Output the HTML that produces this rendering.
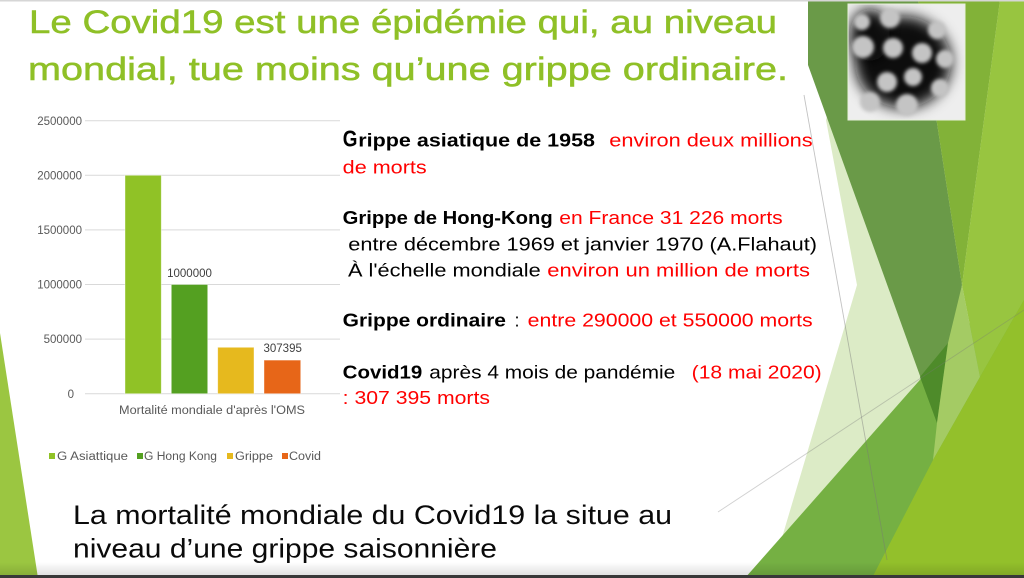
<!DOCTYPE html>
<html>
<head>
<meta charset="utf-8">
<style>
html,body{margin:0;padding:0;background:#fff;}
svg{display:block;}
text{font-family:"Liberation Sans","DejaVu Sans",sans-serif;}
</style>
</head>
<body>
<svg width="1024" height="578" viewBox="0 0 1024 578" xmlns="http://www.w3.org/2000/svg">
  <defs>
    <filter id="blur6" x="-50%" y="-50%" width="200%" height="200%"><feGaussianBlur stdDeviation="7"/></filter>
    <filter id="blur2" x="-50%" y="-50%" width="200%" height="200%"><feGaussianBlur stdDeviation="1.8"/></filter>
    <clipPath id="imgclip"><rect x="848" y="4" width="117" height="116"/></clipPath>
    <linearGradient id="shadow" x1="0" y1="0" x2="0" y2="1">
      <stop offset="0" stop-color="#000" stop-opacity="0"/>
      <stop offset="1" stop-color="#000" stop-opacity="0.12"/>
    </linearGradient>
  </defs>

  <rect width="1024" height="578" fill="#ffffff"/>

  <!-- left triangle -->
  <polygon points="0,333 38,578 0,578" fill="#9bc641"/>

  <!-- right facet shapes -->
  <polygon points="826,120 857,285 770,578 1024,578 1024,0 860,0" fill="#dcebc6"/>
  <polygon points="745,578 1024,262 1024,578" fill="#75b043"/>
  <polygon points="808,0 918,0 962,285 937,423 808,65" fill="#6a9a48"/>
  <polygon points="920,377 948,343 937,423" fill="#4e8b2a"/>
  <polygon points="918,0 1000,0 962,285" fill="#82b238"/>
  <polygon points="1000,0 1024,0 1024,300 980,377 962,285" fill="#98c540"/>
  <polygon points="962,285 980,377 933,460 937,423 948,343" fill="#a4cb64"/>
  <polygon points="872,578 933,460 980,377 1024,300 1024,578" fill="#93c02b"/>

  <!-- thin lines -->
  <line x1="804" y1="95" x2="887" y2="560" stroke="#777" stroke-opacity="0.45" stroke-width="0.9"/>
  <line x1="718" y1="512" x2="1024" y2="310" stroke="#777" stroke-opacity="0.35" stroke-width="0.9"/>

  <!-- virus image -->
  <g clip-path="url(#imgclip)">
    <rect x="848" y="4" width="117" height="116" fill="#eeeeee"/>
    <ellipse cx="903" cy="62" rx="48" ry="46" fill="#0c0c0c" filter="url(#blur6)"/>
    <ellipse cx="870" cy="35" rx="20" ry="26" fill="#111" filter="url(#blur6)"/>
    <g fill="#c4c4c4" filter="url(#blur2)">
      <circle cx="862" cy="22" r="8"/>
      <circle cx="890" cy="18" r="10"/>
      <circle cx="937" cy="30" r="9"/>
      <circle cx="863" cy="47" r="11"/>
      <circle cx="893" cy="48" r="10"/>
      <circle cx="922" cy="53" r="10"/>
      <circle cx="945" cy="59" r="9"/>
      <circle cx="887" cy="82" r="10"/>
      <circle cx="913" cy="77" r="9"/>
      <circle cx="870" cy="102" r="10"/>
      <circle cx="907" cy="105" r="11"/>
      <circle cx="940" cy="88" r="9"/>
    </g>
  </g>
  <rect x="848" y="4" width="117" height="116" fill="none" stroke="#e8f0dd" stroke-width="1"/>

  <!-- Title -->
  <g fill="#8fc027" stroke="#8fc027" stroke-width="0.5" font-size="32">
    <text x="29" y="33" textLength="748" lengthAdjust="spacingAndGlyphs">Le Covid19 est une épidémie qui, au niveau</text>
    <text x="28" y="80" textLength="760" lengthAdjust="spacingAndGlyphs">mondial, tue moins qu’une grippe ordinaire.</text>
  </g>

  <!-- Chart -->
  <g stroke="#d9d9d9" stroke-width="1">
    <line x1="85" y1="120.7" x2="340" y2="120.7"/>
    <line x1="85" y1="175.3" x2="340" y2="175.3"/>
    <line x1="85" y1="229.9" x2="340" y2="229.9"/>
    <line x1="85" y1="284.5" x2="340" y2="284.5"/>
    <line x1="85" y1="339.1" x2="340" y2="339.1"/>
    <line x1="85" y1="393.7" x2="340" y2="393.7"/>
  </g>
  <g fill="#595959" font-size="11.5" text-anchor="end">
    <text x="82" y="124.8">2500000</text>
    <text x="82" y="179.4">2000000</text>
    <text x="82" y="234">1500000</text>
    <text x="82" y="288.6">1000000</text>
    <text x="82" y="343.2">500000</text>
    <text x="74" y="397.8">0</text>
  </g>
  <g stroke="#ffffff" stroke-opacity="0.5" stroke-width="0.8">
    <rect x="125" y="175.3" width="36.3" height="218.4" fill="#90c226"/>
    <rect x="171.3" y="284.5" width="36.4" height="109.2" fill="#54a021"/>
    <rect x="217.7" y="347.3" width="36.3" height="46.4" fill="#e6b91e"/>
    <rect x="264" y="360.1" width="36.7" height="33.6" fill="#e76618"/>
  </g>
  <g fill="#404040" font-size="11.5" text-anchor="middle">
    <text x="189.5" y="276.8">1000000</text>
    <text x="282.7" y="352.2">307395</text>
  </g>
  <text x="119" y="414" fill="#595959" font-size="11.5" textLength="186" lengthAdjust="spacingAndGlyphs">Mortalité mondiale d'après l'OMS</text>
  <g>
    <rect x="49" y="453" width="6" height="6" fill="#90c226"/>
    <rect x="137" y="453" width="6" height="6" fill="#54a021"/>
    <rect x="227" y="453" width="6" height="6" fill="#e6b91e"/>
    <rect x="282" y="453" width="6" height="6" fill="#e76618"/>
  </g>
  <g fill="#595959" font-size="11.5">
    <text x="57" y="460" textLength="71" lengthAdjust="spacingAndGlyphs">G Asiattique</text>
    <text x="144" y="460" textLength="73" lengthAdjust="spacingAndGlyphs">G Hong Kong</text>
    <text x="235" y="460" textLength="38" lengthAdjust="spacingAndGlyphs">Grippe</text>
    <text x="289" y="460" textLength="32" lengthAdjust="spacingAndGlyphs">Covid</text>
  </g>

  <!-- Right text block -->
  <g font-size="18">
    <text x="342.7" y="146.7" font-size="23" font-weight="bold" fill="#000" textLength="14.7" lengthAdjust="spacingAndGlyphs">G</text>
    <text x="358.3" y="146.7" font-weight="bold" fill="#000" textLength="236.7" lengthAdjust="spacingAndGlyphs">rippe asiatique de 1958</text>
    <text x="609.3" y="146.7" fill="#ff0000" textLength="203.4" lengthAdjust="spacingAndGlyphs">environ deux millions</text>
    <text x="342.7" y="173.3" fill="#ff0000" textLength="84" lengthAdjust="spacingAndGlyphs">de morts</text>

    <text x="342.7" y="224" font-weight="bold" fill="#000" textLength="210" lengthAdjust="spacingAndGlyphs">Grippe de Hong-Kong</text>
    <text x="559.3" y="224" fill="#ff0000" textLength="223.4" lengthAdjust="spacingAndGlyphs">en France 31 226 morts</text>
    <text x="348.3" y="250.7" fill="#000" textLength="468.7" lengthAdjust="spacingAndGlyphs">entre décembre 1969 et janvier 1970 (A.Flahaut)</text>
    <text x="348" y="276.7" fill="#000" textLength="192.7" lengthAdjust="spacingAndGlyphs">À l'échelle mondiale</text>
    <text x="547.3" y="276.7" fill="#ff0000" textLength="262.7" lengthAdjust="spacingAndGlyphs">environ un million de morts</text>

    <text x="342.7" y="326.7" font-weight="bold" fill="#000" textLength="163.3" lengthAdjust="spacingAndGlyphs">Grippe ordinaire</text>
    <text x="514.5" y="326.7" fill="#000">:</text>
    <text x="527.7" y="326.7" fill="#ff0000" textLength="285" lengthAdjust="spacingAndGlyphs">entre 290000 et 550000 morts</text>

    <text x="342.7" y="378.3" font-weight="bold" fill="#000" textLength="79.6" lengthAdjust="spacingAndGlyphs">Covid19</text>
    <text x="429.3" y="378.3" fill="#000" textLength="246" lengthAdjust="spacingAndGlyphs">après 4 mois de pandémie</text>
    <text x="691.7" y="378.3" fill="#ff0000" textLength="130" lengthAdjust="spacingAndGlyphs">(18 mai 2020)</text>
    <text x="342.7" y="404" fill="#ff0000" textLength="147.3" lengthAdjust="spacingAndGlyphs">: 307 395 morts</text>
  </g>

  <!-- Bottom text -->
  <g font-size="26.5" fill="#0a0a0a">
    <text x="73" y="524" textLength="599" lengthAdjust="spacingAndGlyphs">La mortalité mondiale du Covid19 la situe au</text>
    <text x="73" y="557.5" textLength="424" lengthAdjust="spacingAndGlyphs">niveau d’une grippe saisonnière</text>
  </g>

  <!-- bottom shadow and bar -->
  <rect x="0" y="562" width="1024" height="13" fill="url(#shadow)"/>
  <rect x="0" y="575" width="1024" height="3" fill="#383838"/>
  <!-- top border -->
  <rect x="0" y="0" width="1024" height="1.5" fill="#d6d6d6"/>
</svg>
</body>
</html>
